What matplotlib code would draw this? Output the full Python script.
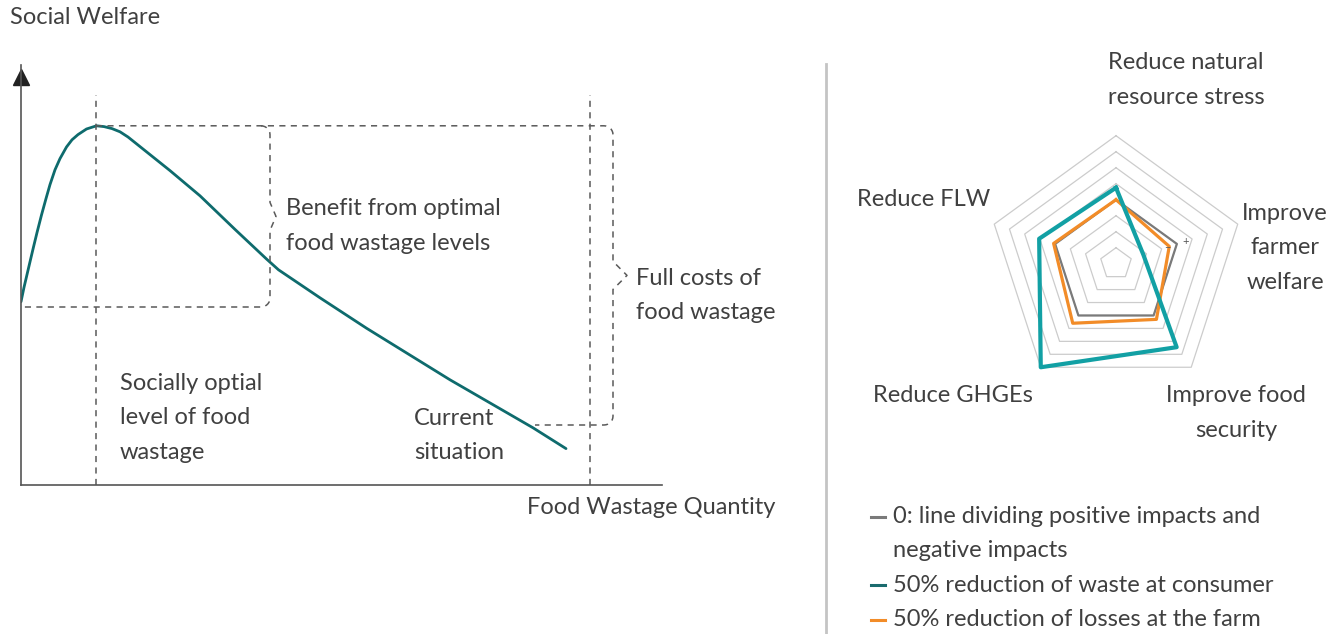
import numpy as np
import matplotlib
matplotlib.use("Agg")
import matplotlib.pyplot as plt

plt.rcParams['font.family'] = ['Lato', 'DejaVu Sans']

# ---- left panel: welfare curve (quantity, welfare) ----
curve_q = [0.0, 0.06, 0.12, 0.18, 0.25, 0.32, 0.41, 0.50, 0.58, 0.68, 0.78,
           0.91, 1.02, 1.14, 1.31, 1.51, 1.66, 1.82, 1.98, 2.14, 2.38,
           2.98, 3.58, 4.28, 4.91, 5.15, 5.98, 6.91, 8.58, 10.24, 10.9]
curve_w = [4.58, 4.94, 5.26, 5.58, 5.95, 6.31, 6.75, 7.16, 7.51, 7.88, 8.16,
           8.45, 8.63, 8.76, 8.90, 8.98, 8.96, 8.91, 8.83, 8.70, 8.46,
           7.86, 7.23, 6.39, 5.65, 5.38, 4.68, 3.92, 2.63, 1.43, 0.91]

q_optimal = 1.5
q_current = 11.38
w_peak = 8.98
w_start = 4.45
w_current = 1.5

# ---- right panel: radar ----
axes_labels = ["Reduce natural\nresource stress", "Improve\nfarmer\nwelfare",
               "Improve food\nsecurity", "Reduce GHGEs", "Reduce FLW"]
zero_line = [4, 4, 4, 4, 4]
consumer_50 = [4.75, 1.8, 6.45, 8.0, 5.05]
farm_50 = [4.0, 3.5, 4.3, 4.6, 4.1]
n_rings = 8

legend_labels = ["0: line dividing positive impacts and\nnegative impacts",
                 "50% reduction of waste at consumer",
                 "50% reduction of losses at the farm"]

TXT = "#404040"
DASH = "#5a5a5a"
W, H = 1343, 634


def fx(x):
    return x / W


def fy(y):
    return 1 - y / H


fig = plt.figure(figsize=(W / 100, H / 100), dpi=100)
fs = 17
ls = 1.8

# left axes
ax = fig.add_axes([fx(21), fy(485), fx(662 - 21), (485 - 65) / H])
ax.set_xlim(0, 12.82)
ax.set_ylim(0, 10.5)
for s in ["top", "right"]:
    ax.spines[s].set_visible(False)
for s in ["left", "bottom"]:
    ax.spines[s].set_color("#555555")
    ax.spines[s].set_linewidth(1.2)
ax.set_xticks([])
ax.set_yticks([])
ax.patch.set_alpha(0)
ax.plot([0], [10.2], marker="^", ms=11, color="#222222", clip_on=False)

ax.plot(curve_q, curve_w, color="#0e6b6d", lw=2, solid_capstyle="round",
        solid_joinstyle="round")

dash = dict(color=DASH, lw=1.1, dashes=(4, 3.5), clip_on=False)
top_dash = 9.75
ax.plot([q_optimal, q_optimal], [0, top_dash], **dash)
ax.plot([q_current, q_current], [0, top_dash], **dash)


def brace(x, tip, y0, y1, rx=0.18, ry=0.22):
    ym = (y0 + y1) / 2
    t = np.linspace(0, np.pi / 2, 8)
    top_x = x - rx + rx * np.sin(t)
    top_y = y1 - ry + ry * np.cos(t)
    bot_x = x - rx + rx * np.cos(t)
    bot_y = y0 + ry - ry * np.sin(t)
    xs = np.concatenate([top_x, [x, tip, x], bot_x])
    ys = np.concatenate([top_y, [ym + 0.35, ym, ym - 0.35], bot_y])
    return xs, ys


# benefit brace
bx, by = brace(4.98, 5.1, w_start, w_peak)
ax.plot(list(bx) + [0], list(by) + [w_start], **dash)
# full costs brace
bx2, by2 = brace(11.84, 12.12, w_current, w_peak)
ax.plot([q_optimal] + list(bx2) + [10.28], [w_peak] + list(by2) + [w_current], **dash)

txt = dict(fontsize=fs, color=TXT, va="center", linespacing=ls)
ax.text(5.3, 6.475, "Benefit from optimal\nfood wastage levels", **txt)
ax.text(12.3, 4.74, "Full costs of\nfood wastage", **txt)
ax.text(1.98, 1.68, "Socially optial\nlevel of food\nwastage", **txt)
ax.text(7.86, 1.24, "Current\nsituation", **txt)
fig.text(fx(10), fy(18), "Social Welfare", **txt)
fig.text(fx(527), fy(508), "Food Wastage Quantity", **txt)

# separator
fig.add_artist(plt.Line2D([fx(826), fx(826)], [fy(64), 0], color="#c4c4c4", lw=2))

# radar
cx, cy, R = 1116, 263.7, 128
rax = fig.add_axes([fx(cx - R), fy(cy + R), 2 * R / W, 2 * R / H], projection="polar")
rax.set_theta_offset(np.pi / 2)
rax.set_theta_direction(-1)
rax.set_ylim(0, n_rings)
rax.axis("off")
theta = np.linspace(0, 2 * np.pi, len(axes_labels), endpoint=False)
th_closed = np.append(theta, theta[0])


def closed(v):
    return np.append(v, v[0])


for r in range(1, n_rings + 1):
    rax.plot(th_closed, [r] * len(th_closed), color="#cccccc", lw=0.9, clip_on=False)
rax.plot(th_closed, closed(zero_line), color="#7a7a7a", lw=1.6, clip_on=False)
rax.plot(th_closed, closed(farm_50), color="#f28c28", lw=2.3, clip_on=False)
rax.plot(th_closed, closed(consumer_50), color="#12a0a4", lw=3.0, clip_on=False)
rax.text(theta[1], 3.35, "−", fontsize=8, color="#555555", ha="center", va="center")
rax.text(theta[1], 4.55, "+", fontsize=8, color="#555555", ha="center", va="center")

label_pos = [(1186, 80), (1285, 248), (1236, 413), (953, 396), (924, 199)]
for lab, (x, y) in zip(axes_labels, label_pos):
    fig.text(fx(x), fy(y), lab, ha="center", multialignment="center", **txt)

# legend
leg_colors = ["#7a7a7a", "#1a6b6e", "#f28c28"]
leg_y = [517, 585, 620]
for lab, c, y in zip(legend_labels, leg_colors, leg_y):
    fig.add_artist(plt.Line2D([fx(871), fx(885)], [fy(y), fy(y)], color=c, lw=2.2))
    n = lab.count("\n")
    fig.text(fx(893), fy(y + n * 16.5), lab, **txt)

fig.savefig("out.png", dpi=100)
